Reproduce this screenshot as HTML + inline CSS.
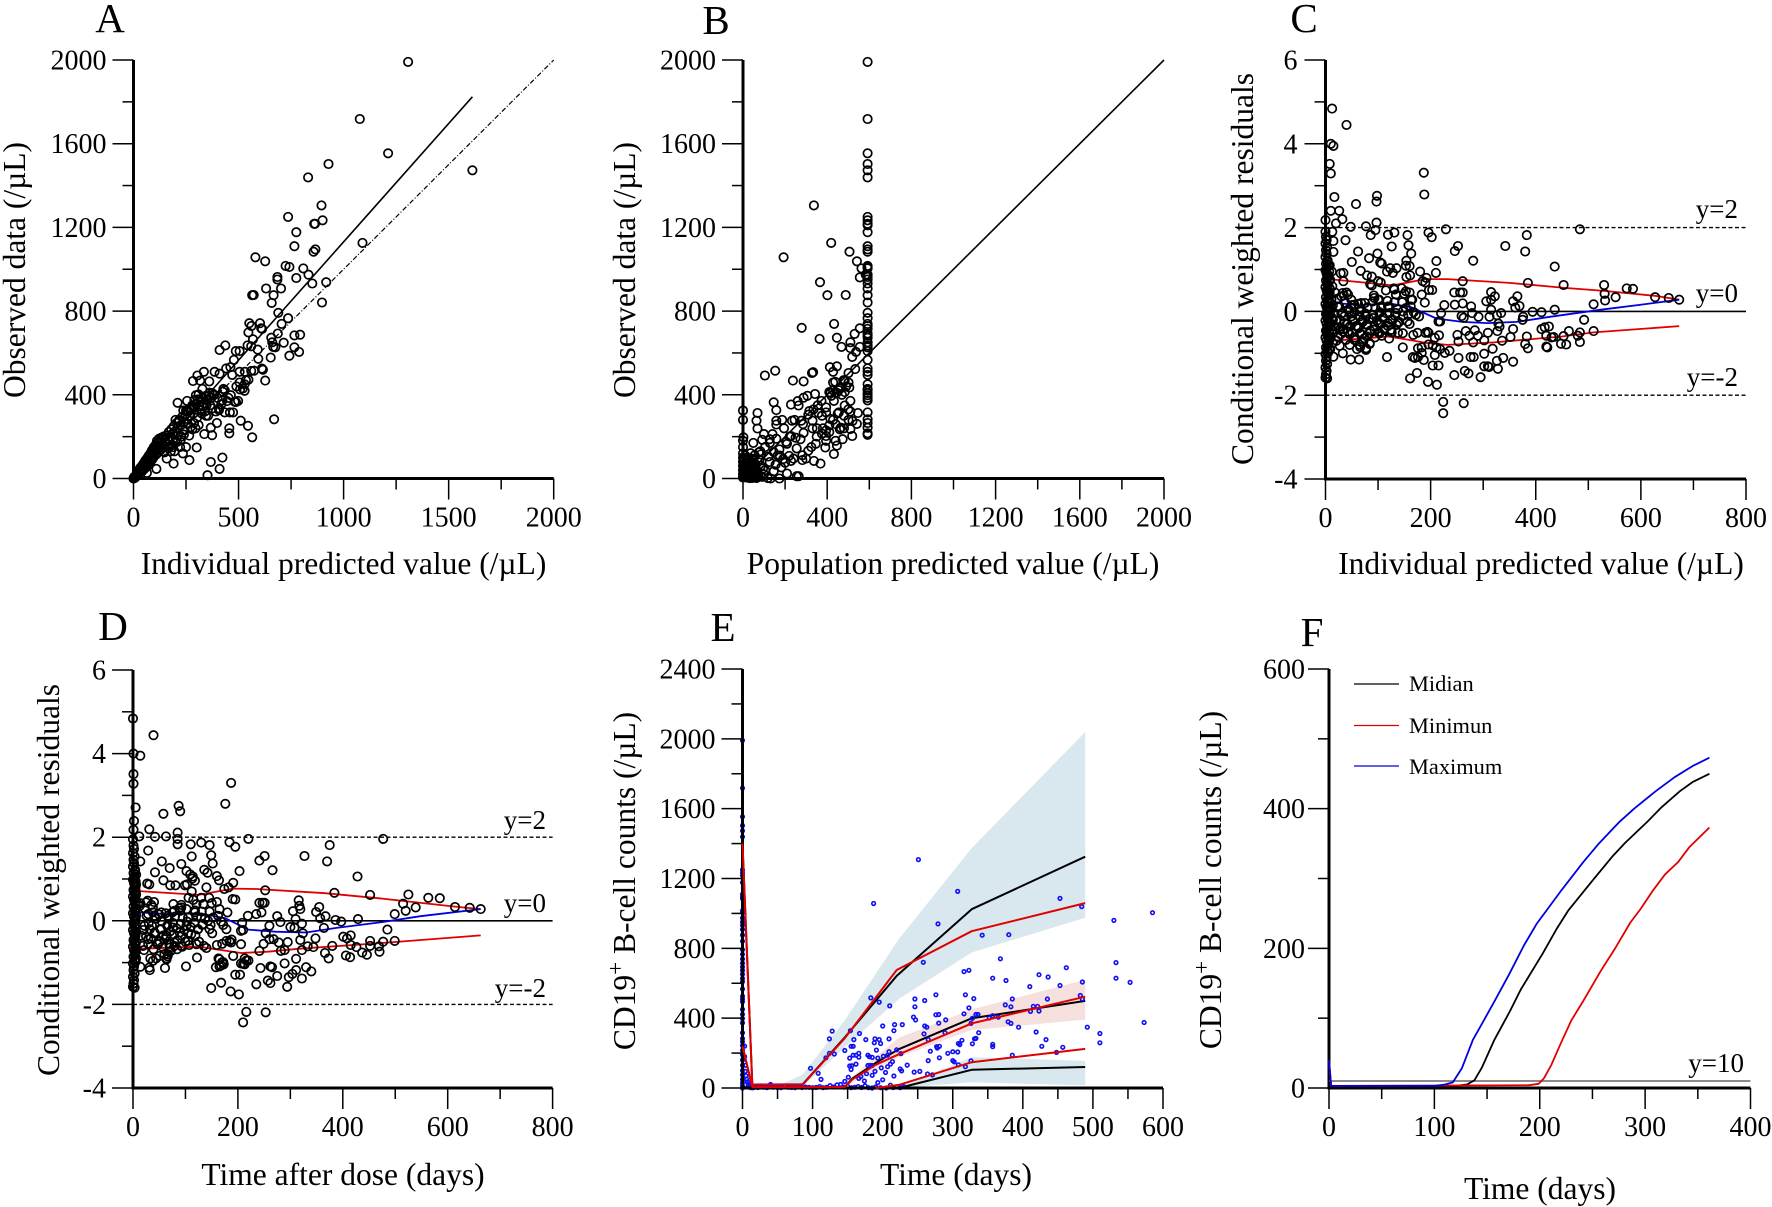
<!DOCTYPE html>
<html lang="en">
<head>
<meta charset="utf-8">
<title>Model diagnostic plots</title>
<style>
html,body{margin:0;padding:0;background:#fff;}
svg{display:block;font-family:"Liberation Serif",serif;fill:#000;}
.tick{font-size:28px;}
.title{font-size:31.5px;text-anchor:middle;}
.letter{font-size:41px;text-anchor:middle;}
.ref{font-size:27px;text-anchor:end;}
.legend{font-size:22.4px;}
</style>
</head>
<body>
<svg id="fig" xmlns="http://www.w3.org/2000/svg" width="1772" height="1207" viewBox="0 0 1772 1207">
<rect width="1772" height="1207" fill="#fff"/>
<text class="letter" x="110" y="32">A</text>
<text class="letter" x="716" y="34">B</text>
<text class="letter" x="1304" y="32">C</text>
<text class="letter" x="113" y="640">D</text>
<text class="letter" x="723" y="641">E</text>
<text class="letter" x="1312" y="646">F</text>

<text class="title" x="343.5" y="574">Individual predicted value (/µL)</text>
<text class="title" transform="translate(25 270) rotate(-90)">Observed data (/µL)</text>
<text class="title" x="953" y="574">Population predicted value (/µL)</text>
<text class="title" transform="translate(635 270) rotate(-90)">Observed data (/µL)</text>
<text class="title" x="1541" y="574">Individual predicted value (/µL)</text>
<text class="title" transform="translate(1253 269) rotate(-90)">Conditional weighted residuals</text>
<text class="title" x="343" y="1185">Time after dose (days)</text>
<text class="title" transform="translate(59 880) rotate(-90)">Conditional weighted residuals</text>
<text class="title" x="956" y="1185">Time (days)</text>
<text class="title" transform="translate(635 881) rotate(-90)">CD19<tspan dy="-12" font-size="23">+</tspan><tspan dy="12"> B-cell counts (/µL)</tspan></text>
<text class="title" x="1540" y="1199">Time (days)</text>
<text class="title" transform="translate(1221 880) rotate(-90)">CD19<tspan dy="-12" font-size="23">+</tspan><tspan dy="12"> B-cell counts (/µL)</tspan></text>

<text class="ref" x="1738" y="218">y=2</text>
<text class="ref" x="1738" y="302">y=0</text>
<text class="ref" x="1738" y="386">y=-2</text>
<text class="ref" x="546" y="829">y=2</text>
<text class="ref" x="546" y="912">y=0</text>
<text class="ref" x="546" y="997">y=-2</text>
<text class="ref" x="1744" y="1072">y=10</text>

<line x1="1354" x2="1399" y1="684" y2="684" stroke="#000" stroke-width="1.3"/>
<text class="legend" x="1409" y="691">Midian</text>
<line x1="1354" x2="1399" y1="725.5" y2="725.5" stroke="#e00000" stroke-width="1.3"/>
<text class="legend" x="1409" y="733">Minimun</text>
<line x1="1354" x2="1399" y1="766" y2="766" stroke="#0000e0" stroke-width="1.3"/>
<text class="legend" x="1409" y="774">Maximum</text>
</svg>
<script>
/* ---------- Panel A: individual prediction vs observed ---------- */
const aPoints=[[1307,1991],[1077,1718],[1212,1554],[1613,1473],[928,1503],[831,1439],[895,1305],[736,1250],[900,1234],[860,1217],[864,1217],[775,1177],[766,1110],[1090,1126],[866,1095],[857,1084],[580,1057],[627,1038],[724,1016],[742,1011],[808,1004],[833,974],[685,963],[685,951],[775,958],[851,932],[917,938],[631,908],[702,908],[572,877],[565,876],[667,876],[658,839],[897,841],[689,792],[736,766],[705,739],[602,742],[551,742],[561,729],[612,715],[608,718],[547,698],[687,693],[766,684],[793,687],[656,673],[569,665],[715,649],[660,651],[665,629],[675,627],[766,627],[543,636],[560,632],[437,636],[410,614],[487,609],[505,609],[591,616],[788,605],[742,587],[653,578],[594,572],[478,567],[461,532],[441,526],[611,525],[616,520],[335,510],[386,510],[410,501],[505,510],[530,510],[470,495],[304,492],[283,466],[317,468],[361,464],[627,468],[560,514],[574,515],[547,472],[505,459],[529,450],[428,428],[434,422],[328,428],[507,426],[529,419],[297,398],[310,402],[374,408],[358,396],[463,398],[498,371],[481,367],[423,373],[210,362],[255,371],[407,327],[434,316],[459,316],[474,316],[237,325],[258,325],[510,276],[545,252],[669,283],[397,265],[456,240],[456,216],[368,243],[374,207],[337,212],[565,197],[301,148],[266,88],[191,71],[423,100],[368,79],[410,46],[352,16],[109,46],[64,27],
[380,400],[370,385],[362,410],[350,375],[345,395],[335,360],[328,385],[320,365],[312,345],[305,378],[298,355],[290,340],[285,310],[278,330],[270,300],[262,320],[255,285],[248,305],[240,270],[232,295],[225,255],[218,280],[210,240],[205,265],[198,225],[192,250],[186,215],[180,235],[175,200],[168,222],[162,190],[155,205],[150,180],[145,198],[140,165],[135,188],[130,155],[125,178],[120,145],[115,170],[110,135],[105,160],[100,125],[96,148],[92,115],[88,135],[84,105],[80,120],[76,95],[72,108],[68,85],[64,95],[60,75],[56,85],[52,65],[48,72],[44,55],[40,60],[36,45],[32,50],[28,35],[24,38],[20,25],[16,24],[12,14],[8,10],[5,5],[3,2],[1,1],[0,0],[2,4],[4,8],[6,3],[10,6],[14,18],[18,14],[22,30],[26,20],[30,42],[34,28],[38,52],[42,36],[46,62],[50,44],[54,74],[58,52],[62,82],[66,60],[70,96],[74,70],[78,112],[82,80],[86,124],[90,92],[94,140],[98,105],[102,155],[108,115],[112,180],[118,125],[122,190],[128,135],[133,195],[138,148],[143,200],[148,125],[152,170],[158,95],[165,145],[172,185],[178,130],[185,160],[195,130],[200,280],[208,175],[215,275],[222,150],[228,200],[235,120],[243,230],[250,150],[258,260],[265,205],[272,245],[280,235],[288,265],[295,240],[302,290],[310,255],[318,330],[325,310],[332,345],[340,320],[348,350],[355,300],[365,350],[375,335],[385,400],[392,320],[400,385],[408,335],[418,355],[425,415],[445,370],[452,385],[488,365],[490,440],[520,430],[535,470],[345,300],[290,375],[280,350],[268,330],[250,325],[240,210],[225,185],[212,205],[198,175],[188,150],
[2,2],[7,7],[11,12],[15,15],[19,20],[23,24],[27,28],[31,32],[35,36],[39,40],[43,44],[47,48],[51,52],[55,58],[59,62],[63,66],[67,72],[71,76],[75,80],[79,85],[83,90],[87,96],[91,100],[95,105]];
const aFitLine=[[0,0],[1613,1824]];
const aIdentityLine=[[0,0],[2000,2000]];

/* ---------- Panel B: population prediction vs observed ---------- */
const bColumnObserved=[1991,1718,1554,1503,1473,1439,1250,1234,1217,1210,1177,1110,1095,1084,1016,1011,1004,974,963,951,932,908,876,841,792,766,739,729,715,693,684,673,651,636,627,609,567,526,510,495,450,428,422,408,398,385,373,316,283,265,243,216,209];
const bColumnPred=[592];
const bPoints=[[337,1305],[419,1126],[193,1057],[506,1084],[541,1038],[563,1004],[555,961],[583,974],[366,938],[401,876],[488,877],[279,720],[433,739],[555,718],[364,667],[446,673],[530,691],[468,629],[510,651],[510,623],[555,629],[537,605],[519,581],[413,532],[446,536],[428,510],[328,504],[333,508],[153,515],[104,492],[237,468],[288,464],[533,523],[501,504],[428,459],[483,468],[501,459],[464,437],[410,413],[428,422],[455,422],[483,413],[342,404],[306,395],[288,386],[510,371],[483,349],[432,371],[373,371],[228,353],[264,349],[146,364],[158,327],[315,322],[359,313],[395,316],[455,316],[510,320],[546,313],[69,313],[0,325],[0,280],[64,276],[69,239],[158,276],[158,258],[186,280],[233,276],[277,276],[330,276],[428,280],[501,280],[510,236],[541,261],[464,243],[410,254],[351,240],[288,218],[228,203],[140,212],[100,212],[2,197],[49,170],[91,185],[127,188],[273,188],[346,166],[395,203],[410,222],[446,157],[391,148],[432,117],[473,188],[519,203],[255,144],[310,133],[209,166],[173,139],[282,111],[219,108],[146,126],[82,130],[36,121],[55,111],[337,84],[368,71],[282,88],[228,84],[191,93],[155,66],[127,79],[182,53],[209,24],[255,11],[264,11],[146,35],[95,48],[100,20],[118,2],[173,0],[131,0],[64,2],
[0,180],[0,150],[0,120],[0,100],[0,80],[0,60],[0,40],[0,20],[0,5],[5,95],[5,70],[5,45],[5,25],[5,8],[10,110],[10,62],[10,34],[10,12],[15,85],[15,52],[15,18],[20,75],[20,40],[20,6],[25,98],[25,55],[25,28],[30,65],[30,12],[35,84],[35,42],[40,58],[40,22],[40,3],[45,72],[45,30],[50,92],[50,48],[50,8],[55,36],[60,16],[75,125],[85,60],[90,8],[105,40],[120,105],[165,110],[200,75],[240,95],[250,195],[195,240],[175,110],[330,240],[380,240],[395,180],[375,215],[350,200],[325,150],[300,95],[460,235],[415,285],[440,260],[395,230],[420,395],[445,410],[470,400],[490,440],[505,435],[478,470],[462,430],[438,462],[415,408],[395,340],[375,300],[355,350],[335,330],[310,305],[260,370],[285,260],[245,280],[222,200],[205,175],[158,190],[128,170],[105,150],[85,115],[78,90],[440,180],[480,300],[500,330],[520,275],[480,240],[450,310],
[5,10],[15,5],[25,15],[35,8],[45,3],[55,12],[8,30],[20,25],[30,35],[42,28],[52,40],[60,20],[12,50],[25,45],[38,48],[50,60],[62,45],[18,70],[32,72],[45,78],[58,70],[5,88],[22,90],[40,95],[10,15],[30,2],[48,18],[60,5],[68,25],[72,10]];
const bIdentityLine=[[0,0],[2000,2000]];

/* ---------- Panel C: CWRES vs individual prediction ---------- */
const cPoints=[[12.5,4.84],[40,4.45],[10,4],[15,3.95],[8,3.52],[10,3.29],[187,3.31],[188,2.79],[17,2.73],[98,2.76],[97,2.62],[58,2.56],[10,2.4],[26,2.4],[32,2.2],[0,2.18],[20,2.1],[97,2.12],[48,2.02],[77,2.03],[95,1.94],[229,1.96],[484,1.96],[196,1.88],[202,1.77],[86,1.82],[119,1.83],[131,1.88],[156,1.82],[383,1.82],[13,1.9],[38,1.7],[15,1.68],[158,1.58],[126,1.55],[342,1.56],[252,1.56],[246,1.44],[380,1.43],[62,1.43],[15,1.42],[99,1.38],[163,1.38],[83,1.27],[211,1.2],[281,1.21],[50,1.18],[104,1.17],[107,1.14],[154,1.21],[153,1.09],[160,1.08],[135,1.03],[123,1.03],[436,1.07],[67,.97],[117,.95],[180,.95],[210,.92],[128,.92],[34,.92],[29,.91],[192,.8],[79,.86],[88,.83],[154,.82],[161,.86],[261,.72],[385,.68],[453,.63],[530,.63],[185,.72],[85,.65],[100,.72],[105,.69],[190,.69],[573,.55],[585,.54],[197,.51],[203,.51],[34,.72],[245,.45],[256,.45],[261,.45],[315,.46],[531,.42],[552,.34],[532,.26],[627,.34],[653,.32],[673,.28],[322,.36],[365,.36],[315,.28],[306,.24],[357,.24],[510,.17],[183,.4],[189,.21],[226,.15],[246,.16],[261,.19],[277,.12],[361,.09],[369,.13],[315,.04],[394,-.01],[411,-.02],[436,.04],[492,-.2],[279,-.04],[220,-.04],[259,-.11],[263,-.15],[291,-.13],[312,-.13],[326,-.09],[334,-.04],[376,-.13],[375,-.2],[215,-.24],[218,-.24],[329,-.29],[331,-.36],[357,-.42],[411,-.42],[417,-.38],[425,-.36],[510,-.47],[463,-.47],[484,-.5],[190,-.51],[194,-.49],[196,-.51],[216,-.57],[251,-.56],[284,-.45],[267,-.47],[309,-.51],[327,-.47],[167,-.56],[175,-.51],[147,-.52],[138,-.51],[208,-.63],[253,-.72],[281,-.74],[302,-.69],[290,-.58],[274,-.58],[336,-.7],[352,-.61],[383,-.6],[420,-.58],[430,-.62],[434,-.61],[380,-.78],[385,-.88],[453,-.59],[448,-.77],[458,-.79],[480,-.58],[484,-.73],[420,-.84],[422,-.86],[147,-.86],[176,-.88],[183,-.86],[196,-.79],[204,-.81],[211,-.86],[218,-.9],[227,-.99],[236,-.94],[208,-1.04],[318,-.89],[302,-1.01],[117,-1.09],[166,-1.09],[170,-1.11],[176,-1.09],[183,-.99],[187,-1.16],[253,-1.11],[276,-1.09],[282,-1.09],[338,-1.11],[326,-1.18],[357,-1.2],[204,-1.29],[215,-1.29],[302,-1.31],[309,-1.31],[311,-1.33],[328,-1.37],[265,-1.42],[272,-1.48],[174,-1.47],[245,-1.52],[161,-1.6],[295,-1.57],[195,-1.68],[212,-1.75],[224,-2.16],[263,-2.19],[224,-2.43],
[0,1.9],[1,1.78],[2,1.7],[0,1.62],[3,1.54],[1,1.46],[2,1.38],[0,1.3],[4,1.22],[1,1.14],[3,1.06],[0,.98],[2,.9],[5,.82],[1,.74],[3,.66],[0,.58],[2,.5],[4,.42],[1,.34],[3,.26],[0,.18],[2,.1],[5,.02],[1,-.06],[3,-.14],[0,-.22],[2,-.3],[4,-.38],[1,-.46],[3,-.54],[0,-.62],[2,-.7],[4,-.78],[1,-.86],[3,-.94],[0,-1.02],[2,-1.1],[1,-1.18],[3,-1.26],[0,-1.34],[2,-1.42],[1,-1.5],[0,-1.58],[3,-1.6],[8,1.1],[12,.95],[9,.75],[13,.6],[8,.45],[11,.3],[14,.15],[9,0],[12,-.15],[8,-.3],[13,-.45],[10,-.6],[14,-.75],[9,-.9],[15,-1.08],
[18,.45],[22,.3],[26,.12],[30,-.05],[20,-.22],[25,-.38],[29,-.55],[21,-.7],[27,-.82],[33,-1],[35,.38],[40,.45],[38,.2],[44,.05],[36,-.12],[42,-.3],[34,-.42],[46,-.55],[39,-.68],[48,-1.15],[50,.15],[55,-.02],[52,-.2],[58,-.35],[51,-.5],[56,-.62],[60,-.9],[64,-1.15],[62,.18],[68,.05],[65,-.12],[71,-.25],[63,-.4],[69,-.55],[72,-.72],[66,-.85],[75,.2],[80,.1],[76,-.05],[83,-.18],[78,-.32],[85,-.46],[79,-.6],[84,-.78],[77,-.92],[88,.62],[92,.38],[90,.24],[95,.08],[91,-.08],[98,-.22],[93,-.36],[100,-.5],[94,-.62],[102,.28],[106,.12],[103,-.02],[110,-.15],[105,-.3],[112,-.44],[107,-.58],[115,.5],[118,.25],[122,.1],[117,-.05],[124,-.2],[119,-.35],[126,-.5],[121,-.65],[130,.55],[134,.4],[131,.22],[137,.05],[132,-.1],[140,-.25],[135,-.32],[145,.55],[150,.42],[146,.22],[153,.08],[148,-.1],[156,-.24],[160,.45],[165,.28],[162,.12],[168,-.02],[172,-.08],[178,-.12],[160,-.3],
[4,1.18],[6,1.1],[2,1.02],[7,.95],[5,.87],[3,.8],[7,.72],[5,.63],[8,.55],[4,.47],[7,.38],[5,.3],[8,.22],[4,.13],[7,.06],[3,-.02],[7,-.1],[5,-.18],[8,-.26],[6,-.34],[3,-.42],[7,-.5],[5,-.58],[8,-.66],[6,-.74],[4,-.82],[7,-.9],[5,-.98],
[33,.44],[43,.4],[49,.28],[30,.36],[23,.12],[33,-.04],[46,0],[55,.16],[68,.2],[80,.08],[93,.32],[100,.28],[106,.08],[119,.12],[131,.52],[134,.4],[153,.48],[163,.28],[27,-.2],[36,-.28],[46,-.36],[33,-.48],[23,-.6],[17,-.36],[52,-.24],[61,-.36],[71,-.2],[80,-.32],[90,-.16],[100,-.28],[109,-.16],[119,-.28],[128,-.2],[138,-.28],[65,-.52],[74,-.64],[84,-.52],[93,-.44],[103,-.52],[55,-.68],[46,-.8],[77,-.88],[84,-.76],[65,-.8],[27,-.44],[17,-.04],[11,.28],[14,-.2],[14,-.52],[112,-.4],[125,-.44],[122,-.04],[134,-.04],[147,0],[157,-.08],[103,-.04],[65,0],[77,-.12],[49,-.12],[43,-.48]];
const cUpperLine=[[17,.76],[128,.62],[190,.77],[232,.77],[350,.68],[455,.56],[530,.49],[628,.37],[673,.28]];
const cLowerLine=[[17,-.7],[121,-.6],[190,-.75],[232,-.8],[320,-.74],[450,-.6],[510,-.5],[673,-.35]];
const cBlueLine=[[20,.2],[65,.15],[121,.19],[163,.1],[211,-.17],[260,-.25],[309,-.28],[364,-.25],[427,-.13],[524,.04],[594,.15],[673,.28]];

/* ---------- Panel D: CWRES vs time ---------- */
const dPoints=[[0,4.84],[39,4.44],[1,4],[14,3.95],[1,3.51],[1,3.28],[187,3.3],[176,2.8],[5,2.71],[87,2.75],[90,2.62],[58,2.56],[2,2.39],[31,2.19],[1,2.18],[12,2.02],[42,2.01],[63,2.02],[85,2.11],[85,1.96],[85,1.83],[220,1.96],[477,1.96],[110,1.83],[130,1.87],[146,1.81],[184,1.88],[195,1.77],[375,1.81],[29,1.68],[149,1.57],[112,1.54],[251,1.55],[327,1.55],[241,1.44],[370,1.42],[55,1.42],[14,1.42],[152,1.37],[92,1.36],[70,1.26],[203,1.19],[266,1.21],[42,1.16],[102,1.19],[136,1.22],[142,1.15],[109,1.11],[114,1.06],[428,1.06],[160,1.07],[58,.97],[164,.97],[113,1.01],[99,.85],[191,.91],[182,.8],[174,.76],[71,.85],[81,.85],[27,.89],[31,.87],[140,.8],[103,.87],[118,.96],[252,.73],[384,.67],[452,.62],[525,.63],[563,.55],[585,.54],[515,.41],[614,.33],[642,.31],[663,.28],[539,.32],[520,.24],[499,.16],[190,.52],[195,.51],[241,.43],[247,.43],[251,.43],[316,.49],[317,.36],[319,.28],[305,.23],[355,.33],[349,.21],[219,.12],[235,.16],[245,.2],[275,.11],[357,.06],[367,.11],[386,.02],[397,-.02],[429,.04],[310,.04],[208,-.05],[260,-.12],[281,-.03],[322,-.07],[364,-.17],[308,-.17],[300,-.15],[485,-.21],[206,-.24],[210,-.22],[253,-.3],[324,-.3],[401,-.38],[408,-.42],[415,-.35],[348,-.42],[295,-.51],[319,-.46],[260,-.44],[268,-.44],[278,-.52],[452,-.48],[477,-.5],[499,-.48],[452,-.6],[469,-.61],[415,-.58],[426,-.63],[380,-.6],[333,-.61],[344,-.63],[249,-.55],[206,-.56],[184,-.49],[188,-.45],[470,-.74],[437,-.76],[446,-.81],[241,-.72],[282,-.72],[289,-.7],[322,-.7],[366,-.77],[373,-.9],[406,-.83],[414,-.87],[191,-.84],[213,-.9],[220,-.95],[206,-1.02],[213,-1.04],[311,-.91],[289,-1.02],[163,-.9],[170,-.99],[122,-.88],[101,-1.09],[61,-1.13],[31,-1.12],[32,-1.18],[158,-1.11],[165,-1.09],[173,-1.04],[243,-1.13],[262,-1.09],[265,-1.11],[330,-1.11],[340,-1.21],[311,-1.18],[304,-1.27],[275,-1.32],[297,-1.35],[322,-1.38],[195,-1.29],[204,-1.29],[257,-1.43],[262,-1.49],[235,-1.52],[168,-1.48],[149,-1.61],[294,-1.58],[186,-1.69],[202,-1.76],[216,-2.18],[253,-2.19],[210,-2.43],
[0,1.95],[1,1.8],[2,1.72],[0,1.62],[3,1.54],[1,1.46],[2,1.38],[0,1.3],[4,1.22],[1,1.14],[3,1.06],[0,.98],[2,.9],[5,.82],[1,.74],[3,.66],[0,.58],[2,.5],[4,.42],[1,.34],[3,.26],[0,.18],[2,.1],[5,.02],[1,-.06],[3,-.14],[0,-.22],[2,-.3],[4,-.38],[1,-.46],[3,-.54],[0,-.62],[2,-.7],[4,-.78],[1,-.86],[3,-.94],[0,-1.02],[2,-1.1],[1,-1.18],[3,-1.26],[0,-1.34],[2,-1.42],[1,-1.5],[0,-1.58],[3,-1.6],[14,.42],[22,.3],[26,.12],[30,-.05],[20,-.22],[25,-.38],[29,-.55],[21,-.7],[14,-1.1],[33,-.9],[28,.48],[35,.38],[40,.45],[38,.2],[44,.05],[36,-.12],[42,-.3],[34,-.42],[46,-.55],[39,-.68],[44,-.9],[50,.15],[55,-.02],[52,-.2],[58,-.35],[51,-.5],[56,-.62],[60,-.8],[64,-.9],[62,.18],[68,.05],[65,-.12],[71,-.25],[63,-.4],[69,-.55],[72,-.72],[66,-.85],[75,.2],[80,.1],[76,-.05],[83,-.18],[78,-.32],[85,-.46],[79,-.6],[84,-.68],[77,.4],[88,.3],[92,.38],[90,.24],[95,.08],[91,-.08],[98,-.22],[93,-.36],[100,-.5],[94,-.62],[102,.28],[106,.55],[103,-.02],[110,-.15],[105,-.3],[112,.7],[107,-.58],[115,.5],[118,.25],[122,.1],[117,-.05],[124,-.2],[119,-.35],[126,-.5],[121,.4],[130,.55],[134,.4],[131,.22],[137,.05],[132,-.1],[140,-.65],[135,-.6],[145,.55],[150,.42],[146,.22],[153,.08],[148,-.1],[151,-.3],[160,.45],[165,.28],[162,.12],[168,-.02],[172,-.1],[178,-.2],[160,-.58],[170,-.55],[180,.2],
[4,1.18],[6,1.1],[2,1.02],[5,.95],[6,.87],[3,.8],[5,.72],[6,.63],[4,.55],[6,.47],[5,.38],[6,.3],[4,.22],[6,.13],[5,.06],[3,-.02],[6,-.1],[5,-.18],[6,-.26],[5,-.34],[3,-.42],[6,-.5],[5,-.58],[6,-.66],[5,-.74],[4,-.82],[6,-.9],[5,-.98],
[13,.36],[25,.44],[38,.32],[29,.16],[41,.12],[54,.2],[67,.12],[79,.24],[92,.32],[105,.08],[118,.2],[130,.08],[143,0],[22,-.12],[32,-.2],[16,-.36],[29,-.44],[19,-.6],[41,-.28],[54,-.2],[64,-.36],[76,-.16],[89,-.28],[102,-.12],[111,-.32],[124,-.2],[133,-.08],[146,-.2],[48,-.56],[60,-.44],[70,-.64],[79,-.52],[92,-.6],[51,-.84],[67,-.8],[64,-.92],[38,-.96],[105,-.48],[121,-.56],[165,-.92],[172,-.99],[168,-1.07],[178,-.48],[187,-.52],[216,-.95],[210,-1.03]];
const dUpperLine=[[12,.71],[125,.62],[191,.77],[235,.76],[366,.66],[475,.53],[614,.34],[663,.28]];
const dLowerLine=[[12,-.67],[125,-.62],[206,-.77],[257,-.74],[315,-.67],[475,-.53],[663,-.35]];
const dBlueLine=[[12,.2],[67,.16],[125,.18],[176,.06],[220,-.21],[271,-.26],[330,-.28],[388,-.17],[475,-.03],[548,.11],[663,.28]];

/* ---------- Panel E: visual predictive check ---------- */
const ePoints=[[187,1057],[251,1308],[307,1126],[279,940],[453,1086],[484,1039],[342,875],[380,878],[585,1004],[530,960],[533,718],[533,629],[553,605],[573,375],[492,348],[510,312],[510,259],[258,720],[368,740],[316,667],[323,674],[462,689],[423,649],[436,636],[357,629],[376,616],[410,581],[453,587],[485,607],[183,516],[195,492],[246,510],[260,501],[276,534],[318,534],[330,512],[385,510],[435,510],[482,530],[485,510],[210,470],[246,465],[375,476],[383,465],[415,468],[421,468],[411,439],[423,441],[323,459],[276,419],[280,421],[316,425],[333,421],[336,421],[357,414],[365,406],[352,401],[244,406],[247,390],[290,390],[280,372],[326,370],[328,399],[379,379],[383,370],[217,363],[228,363],[200,355],[260,355],[263,348],[394,348],[128,326],[154,328],[167,312],[216,328],[259,310],[289,317],[337,317],[419,321],[124,281],[159,277],[176,277],[189,281],[195,277],[188,259],[197,255],[209,281],[265,277],[313,273],[308,255],[310,248],[328,253],[333,284],[331,282],[433,277],[155,239],[158,239],[427,239],[457,233],[357,250],[357,237],[277,237],[281,239],[278,229],[191,217],[220,219],[209,208],[146,215],[268,211],[300,208],[307,206],[293,199],[124,199],[131,195],[448,204],[166,199],[158,188],[162,188],[166,177],[179,188],[181,179],[185,175],[193,171],[201,182],[207,188],[226,197],[119,173],[153,171],[385,188],[281,173],[326,155],[265,157],[300,157],[302,150],[214,151],[211,137],[207,122],[204,89],[198,115],[153,126],[156,128],[155,106],[179,129],[182,129],[185,129],[189,95],[185,73],[162,137],[97,113],[108,84],[112,49],[177,82],[174,40],[235,131],[225,109],[227,98],[245,91],[253,95],[264,80],[271,75],[308,133],[318,122],[216,69],[200,47],[193,31],[211,16],[151,62],[146,38],[166,55],[169,66],
[10,12],[14,8],[18,5],[22,3],[26,6],[30,4],[35,2],[40,20],[44,5],[50,3],[55,2],[60,8],[65,4],[70,3],[75,2],[80,6],[85,3],[90,5],[95,4],[100,2],[105,3],[110,8],[115,2],[120,4],[125,14],[130,6],[135,18],[140,20],[145,5],[150,10],[155,2],[160,4],[165,8],[170,3],[175,12],[180,2],[185,0],[190,6],[197,2],[205,0],[215,3],[225,2],[230,8],
[3,240],[3,180],[4,130],[4,95],[5,70],[6,50],[7,35],[8,22],[9,15],[10,5],[12,2],[15,1]];
const eColumnValues=[1991,1718,1554,1503,1473,1439,1250,1234,1217,1177,1110,1095,1084,1016,1004,974,951,932,908,876,841,792,766,739,715,693,673,651,627,609,567,526,510,495,450,422,398,373,316,283,265,243,216,190,160,130,100,75,50,30,12,0];
const eBlueUpperTop=[[0,0],[45,2],[86,78],[146,388],[223,853],[327,1374],[489,2039]];
const eBlueUpperBottom=[[0,0],[86,7],[146,233],[223,510],[327,776],[489,975]];
const ePinkTop=[[146,30],[223,288],[327,450],[489,620]];
const ePinkBottom=[[146,5],[223,177],[327,332],[489,392]];
const eBlueLowerTop=[[223,5],[327,177],[489,155]];
const eBlueLowerBottom=[[223,0],[327,33],[489,15]];
const eBlackUpper=[[0,1400],[14,20],[86,22],[146,290],[220,642],[327,1024],[489,1325]];
const eRedUpper=[[0,1400],[14,20],[86,20],[146,285],[220,676],[327,898],[489,1059]];
const eBlackMedian=[[0,240],[14,5],[146,5],[157,55],[190,144],[223,222],[327,399],[489,499]];
const eRedMedian=[[0,240],[14,5],[146,5],[157,50],[190,133],[223,193],[327,370],[489,523]];
const eBlackLower=[[0,5],[223,0],[327,104],[489,120]];
const eRedLower=[[190,0],[223,18],[327,148],[489,224]];

/* ---------- Panel F: simulated recovery ---------- */
const fMaximum=[[0,40],[2,3],[100,3],[110,5],[117.5,8],[126,28],[136.6,69],[147,97],[157,124],[171,163],[185,204],[197,235],[220,282],[241,323],[256,350],[275.6,381],[289.5,400],[310,425],[328,445],[345,461],[361,473]];
const fMedian=[[0,40],[2,3],[120,3],[131,5],[138,11],[145,29],[157,69],[171,108],[182,141],[203,193],[216.5,229],[227,254],[249.5,296],[268.6,331],[281,351],[302,381],[315.5,402],[333,425],[345,438],[361,450]];
const fMinimum=[[0,40],[2,3],[190,4],[199,6],[204,14],[211,33],[220,64],[230,97],[241,124],[258,168],[272,201],[286,237],[296,257],[307,282],[319,306],[331,323],[342,345],[361,373]];
const fThreshold=[[0,10],[400,10]];

/* ---------- Axis tick arrays ---------- */
const ticksX2000by500=[0,500,1000,1500,2000];
const minorX2000by250=[250,750,1250,1750];
const ticksX2000by400=[0,400,800,1200,1600,2000];
const minorX2000by200=[200,600,1000,1400,1800];
const ticksResidual=[-4,-2,0,2,4,6];
const minorResidual=[-3,-1,1,3,5];
const ticksX800=[0,200,400,600,800];
const minorX800=[100,300,500,700];
const ticksX600=[0,100,200,300,400,500,600];
const minorX600=[50,150,250,350,450,550];
const ticksY2400=[0,400,800,1200,1600,2000,2400];
const minorY2400=[200,600,1000,1400,1800,2200];
const ticksX400=[0,100,200,300,400];
const minorX400=[50,150,250,350];
const ticksY600=[0,200,400,600];
const minorY600=[100,300,500];

/* ---------- Drawing ---------- */
const NS='http://www.w3.org/2000/svg';
const fig=document.getElementById('fig');
function scale(d0,d1,p0,p1){return v=>p0+(v-d0)/(d1-d0)*(p1-p0);}
function node(tag,attrs,parent){
  const el=document.createElementNS(NS,tag);
  for(const k in attrs)el.setAttribute(k,attrs[k]);
  (parent||fig).appendChild(el);
  return el;
}
function makePanel(name,box,xd,yd,gap){
  const g=node('g',{});
  
  
  return {name,g,box,gap,x:scale(xd[0],xd[1],box.x0,box.x1),y:scale(yd[0],yd[1],box.y1,box.y0)};
}
function axes(p,xT,xM,yT,yM){
  const b=p.box;
  const ax=node('g',{stroke:'#000',fill:'none'},p.g);
  
  
  const xBase=b.x0;
  const bottom=node('line',{x1:b.x0-1.5,x2:b.x1,y1:b.y1,y2:b.y1,'stroke-width':3},ax);
  
  
  const left=node('line',{x1:b.x0,x2:b.x0,y1:b.y0,y2:b.y1+1.5,'stroke-width':3},ax);
  
  
  xT.forEach(v=>{
    const t=node('line',{x1:p.x(v),x2:p.x(v),y1:b.y1,y2:b.y1+21,'stroke-width':1.5},ax);
    
    
    const l=node('text',{x:p.x(v),y:b.y1+48,'text-anchor':'middle','class':'tick',fill:'#000',stroke:'none'},p.g);
    
    
    l.textContent=v;
  });
  xM.forEach(v=>{
    const t=node('line',{x1:p.x(v),x2:p.x(v),y1:b.y1,y2:b.y1+11,'stroke-width':1.5},ax);
    
    
  });
  yT.forEach(v=>{
    const t=node('line',{x1:xBase-21,x2:xBase,y1:p.y(v),y2:p.y(v),'stroke-width':1.5},ax);
    
    
    const l=node('text',{x:xBase-p.gap,y:p.y(v)+9.5,'text-anchor':'end','class':'tick',fill:'#000',stroke:'none'},p.g);
    
    
    l.textContent=v;
  });
  yM.forEach(v=>{
    const t=node('line',{x1:xBase-11,x2:xBase,y1:p.y(v),y2:p.y(v),'stroke-width':1.5},ax);
    
    
  });
}
function line(p,data,color,width,dash,label){
  const d=node('polyline',{points:data.map(q=>p.x(q[0]).toFixed(1)+','+p.y(q[1]).toFixed(1)).join(' '),fill:'none',stroke:color,'stroke-width':width,'stroke-linejoin':'round'},p.g);
  if(dash)d.setAttribute('stroke-dasharray',dash);
  
  
}
function area(p,top,bottom,color,label){
  const pts=top.concat(bottom.slice().reverse()).map(q=>p.x(q[0]).toFixed(1)+','+p.y(q[1]).toFixed(1)).join(' ');
  const d=node('polygon',{points:pts,fill:color,stroke:'none'},p.g);
  
  
}
function dots(p,data,r,color,sw,label){
  const g=node('g',{fill:'none',stroke:color,'stroke-width':sw},p.g);
  
  
  data.forEach(q=>{
    const c=node('circle',{cx:p.x(q[0]).toFixed(1),cy:p.y(q[1]).toFixed(1),r:r},g);
    
    
  });
}
const RED='#e00000',BLUE='#0000e0';
const R=4.2,SW=1.7;

/* A */
const pA=makePanel('a',{x0:133.5,x1:553.7,y0:60,y1:478.5},[0,2000],[0,2000],27);
axes(pA,ticksX2000by500,minorX2000by250,ticksX2000by400,minorX2000by200);
line(pA,aIdentityLine,'#000',1.2,'5 2 1 2','identity-line');
line(pA,aFitLine,'#000',1.6,null,'fit-line');
dots(pA,aPoints,R,'#000',SW,'observed-points');

/* B */
const pB=makePanel('b',{x0:743,x1:1164,y0:60,y1:478.5},[0,2000],[0,2000],27);
axes(pB,ticksX2000by400,minorX2000by200,ticksX2000by400,minorX2000by200);
line(pB,bIdentityLine,'#000',1.6,null,'identity-line');
dots(pB,bPoints,R,'#000',SW,'observed-points');
dots(pB,bColumnObserved.map(v=>[bColumnPred[0],v]),R,'#000',SW,'capped-prediction-points');

/* C */
const pC=makePanel('c',{x0:1325.5,x1:1746,y0:60,y1:479},[0,800],[-4,6],28);
axes(pC,ticksX800,minorX800,ticksResidual,minorResidual);
line(pC,[[0,2],[800,2]],'#000',1.4,'4 2.5','reference-line-y2');
line(pC,[[0,-2],[800,-2]],'#000',1.4,'4 2.5','reference-line-y-2');
line(pC,[[0,0],[800,0]],'#000',1.6,null,'reference-line-y0');
line(pC,cUpperLine,RED,1.8,null,'upper-percentile-line');
line(pC,cLowerLine,RED,1.8,null,'lower-percentile-line');
line(pC,cBlueLine,BLUE,1.8,null,'median-trend-line');
dots(pC,cPoints,R,'#000',SW,'residual-points');

/* D */
const pD=makePanel('d',{x0:133,x1:552.6,y0:670,y1:1088},[0,800],[-4,6],27);
axes(pD,ticksX800,minorX800,ticksResidual,minorResidual);
line(pD,[[0,2],[800,2]],'#000',1.4,'4 2.5','reference-line-y2');
line(pD,[[0,-2],[800,-2]],'#000',1.4,'4 2.5','reference-line-y-2');
line(pD,[[0,0],[800,0]],'#000',1.6,null,'reference-line-y0');
line(pD,dUpperLine,RED,1.8,null,'upper-percentile-line');
line(pD,dLowerLine,RED,1.8,null,'lower-percentile-line');
line(pD,dBlueLine,BLUE,1.8,null,'median-trend-line');
dots(pD,dPoints,R,'#000',SW,'residual-points');

/* E */
const pE=makePanel('e',{x0:742.5,x1:1163,y0:669,y1:1088},[0,600],[0,2400],27);
area(pE,eBlueUpperTop,eBlueUpperBottom,'#d9e8ef','upper-percentile-band');
area(pE,eBlueLowerTop,eBlueLowerBottom,'#d9e8ef','lower-percentile-band');
area(pE,ePinkTop,ePinkBottom,'#f5e0de','median-band');
line(pE,eBlackUpper,'#000',2,null,'observed-95th-line');
line(pE,eBlackMedian,'#000',2,null,'observed-median-line');
line(pE,eBlackLower,'#000',2,null,'observed-5th-line');
dots(pE,ePoints,1.8,'#1010f0',1.6,'observed-counts');
dots(pE,eColumnValues.map(v=>[0,v]),1.8,'#1010f0',1.6,'baseline-counts');
axes(pE,ticksX600,minorX600,ticksY2400,minorY2400);
line(pE,eRedUpper,RED,2,null,'predicted-95th-line');
line(pE,eRedMedian,RED,2,null,'predicted-median-line');
line(pE,eRedLower,RED,2,null,'predicted-5th-line');

/* F */
const pF=makePanel('f',{x0:1329,x1:1750.5,y0:669,y1:1088},[0,400],[0,600],24);
axes(pF,ticksX400,minorX400,ticksY600,minorY600);
line(pF,fThreshold,'#666',1.6,null,'threshold-line-y10');
line(pF,fMedian,'#000',1.8,null,'median-curve');
line(pF,fMinimum,RED,1.8,null,'minimum-curve');
line(pF,fMaximum,BLUE,1.8,null,'maximum-curve');
</script>
</body>
</html>
